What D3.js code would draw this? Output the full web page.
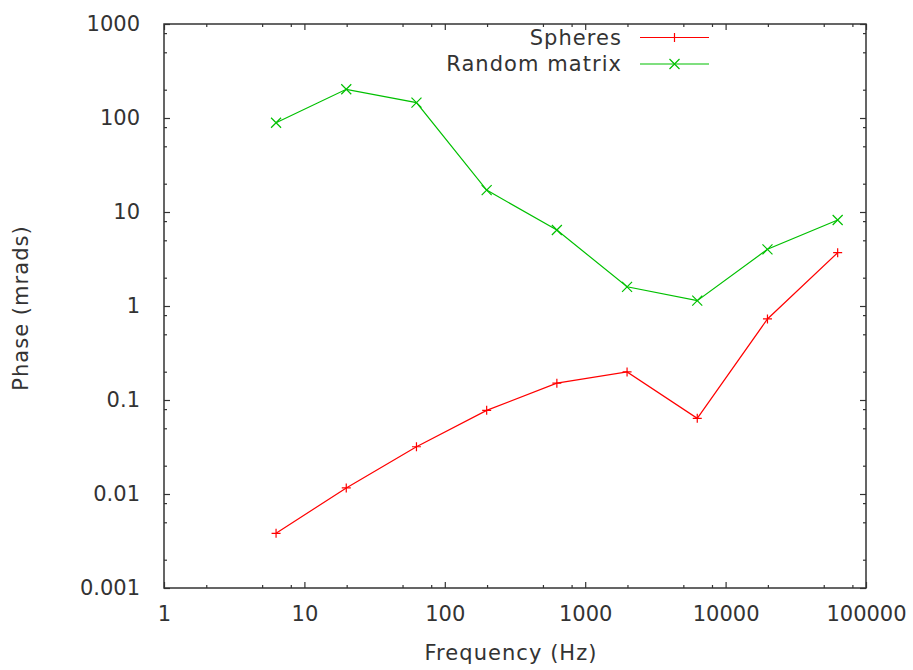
<!DOCTYPE html>
<html>
<head>
<meta charset="utf-8">
<script src="https://cdn.jsdelivr.net/npm/d3@7"></script>
<style>
  body { margin: 0; background: #fff; }
  text { font-family: "DejaVu Sans", sans-serif; fill: #333; }
  .word { letter-spacing: 1.05px; }
</style>
</head>
<body>
<div id="chart"></div>
<script>
// frequencies in Hz (half-decade steps starting at 2*pi)
var freqs = [6.283, 19.87, 62.83, 198.7, 628.3, 1987, 6283, 19870, 62830];
var spheres = [0.00382, 0.0116, 0.0318, 0.0776, 0.151, 0.199, 0.0638, 0.728, 3.69];
var randomMatrix = [89, 202, 146, 17.1, 6.44, 1.60, 1.14, 4.01, 8.22];

var xMajor = [1, 10, 100, 1000, 10000, 100000];
var yMajor = [0.001, 0.01, 0.1, 1, 10, 100, 1000];
var yLabels = ["0.001", "0.01", "0.1", "1", "10", "100", "1000"];
var minorSteps = [2, 5, 8];

var series = [
  { name: "Spheres", values: spheres, color: "#ff0000", marker: "plus" },
  { name: "Random matrix", values: randomMatrix, color: "#00c000", marker: "cross" }
];

var W = 913, H = 670;
var margin = { top: 24, right: 47, bottom: 82, left: 164 };
var width = W - margin.left - margin.right;
var height = H - margin.top - margin.bottom;

var svg = d3.select("#chart").append("svg")
    .attr("width", W)
    .attr("height", H)
  .append("g")
    .attr("transform", "translate(" + margin.left + "," + margin.top + ")");

var x = d3.scaleLog().domain([1, 100000]).range([0, width]);
var y = d3.scaleLog().domain([0.001, 1000]).range([height, 0]);

function minorsOf(major) {
  var out = [];
  for (var i = 0; i < major.length - 1; i++) {
    minorSteps.forEach(function(s) { out.push(major[i] * s); });
  }
  return out;
}

function styleAxis(g) {
  g.select(".domain").remove();
  g.selectAll("line").attr("stroke", "#333").attr("stroke-width", 1.2);
  g.selectAll("text").attr("font-size", 21).style("font-family", "DejaVu Sans, sans-serif").attr("fill", "#333");
}

// major ticks, all four sides, pointing inward
svg.append("g").attr("transform", "translate(0," + height + ")")
  .call(d3.axisBottom(x).tickValues(xMajor).tickFormat(d3.format("d")).tickSize(-6).tickPadding(18))
  .call(styleAxis);
svg.append("g")
  .call(d3.axisTop(x).tickValues(xMajor).tickFormat("").tickSize(-6))
  .call(styleAxis);
svg.append("g")
  .call(d3.axisLeft(y).tickValues(yMajor).tickFormat(function(d, i) { return yLabels[i]; }).tickSize(-6).tickPadding(24))
  .call(styleAxis);
svg.append("g").attr("transform", "translate(" + width + ",0)")
  .call(d3.axisRight(y).tickValues(yMajor).tickFormat("").tickSize(-6))
  .call(styleAxis);

// minor ticks
svg.append("g").attr("transform", "translate(0," + height + ")")
  .call(d3.axisBottom(x).tickValues(minorsOf(xMajor)).tickFormat("").tickSize(-3))
  .call(styleAxis);
svg.append("g")
  .call(d3.axisTop(x).tickValues(minorsOf(xMajor)).tickFormat("").tickSize(-3))
  .call(styleAxis);
svg.append("g")
  .call(d3.axisLeft(y).tickValues(minorsOf(yMajor)).tickFormat("").tickSize(-3))
  .call(styleAxis);
svg.append("g").attr("transform", "translate(" + width + ",0)")
  .call(d3.axisRight(y).tickValues(minorsOf(yMajor)).tickFormat("").tickSize(-3))
  .call(styleAxis);

// border
svg.append("rect")
  .attr("width", width).attr("height", height)
  .attr("fill", "none").attr("stroke", "#333").attr("stroke-width", 1.5);

function markerPath(type, cx, cy) {
  var r = type === "plus" ? 4.5 : 5;
  if (type === "plus") {
    return "M" + (cx - r) + "," + cy + "H" + (cx + r) + "M" + cx + "," + (cy - r) + "V" + (cy + r);
  }
  return "M" + (cx - r) + "," + (cy - r) + "L" + (cx + r) + "," + (cy + r) +
         "M" + (cx - r) + "," + (cy + r) + "L" + (cx + r) + "," + (cy - r);
}

var line = d3.line()
  .x(function(d) { return x(d[0]); })
  .y(function(d) { return y(d[1]); });

series.forEach(function(s) {
  var pts = freqs.map(function(f, i) { return [f, s.values[i]]; });
  svg.append("path")
    .datum(pts)
    .attr("d", line)
    .attr("fill", "none")
    .attr("stroke", s.color)
    .attr("stroke-width", 1.2);
  svg.append("g").selectAll("path")
    .data(pts)
    .enter()
    .append("path")
    .attr("d", function(d) { return markerPath(s.marker, x(d[0]), y(d[1])); })
    .attr("stroke", s.color)
    .attr("stroke-width", 1.2)
    .attr("fill", "none");
});

// legend (top right, gnuplot style)
var legend = svg.append("g")
  .selectAll("g")
  .data(series)
  .enter()
  .append("g")
  .attr("transform", function(d, i) { return "translate(0," + (13.5 + i * 26.5) + ")"; });

legend.append("text")
  .attr("class", "word")
  .attr("x", 458)
  .attr("dy", ".35em")
  .attr("text-anchor", "end")
  .attr("font-size", 21)
  .text(function(d) { return d.name; });

legend.append("line")
  .attr("x1", 476).attr("x2", 545)
  .attr("stroke", function(d) { return d.color; })
  .attr("stroke-width", 1.2);

legend.append("path")
  .attr("d", function(d) { return markerPath(d.marker, 510.5, 0); })
  .attr("stroke", function(d) { return d.color; })
  .attr("stroke-width", 1.2)
  .attr("fill", "none");

// axis titles
svg.append("text")
  .attr("class", "word")
  .attr("x", width / 2 - 4)
  .attr("y", height + 72)
  .attr("text-anchor", "middle")
  .attr("font-size", 21)
  .text("Frequency (Hz)");

svg.append("text")
  .attr("class", "word")
  .attr("transform", "translate(" + (-margin.left + 28) + "," + (height / 2 + 2) + ") rotate(-90)")
  .attr("text-anchor", "middle")
  .attr("font-size", 21)
  .text("Phase (mrads)");
</script>
</body>
</html>
